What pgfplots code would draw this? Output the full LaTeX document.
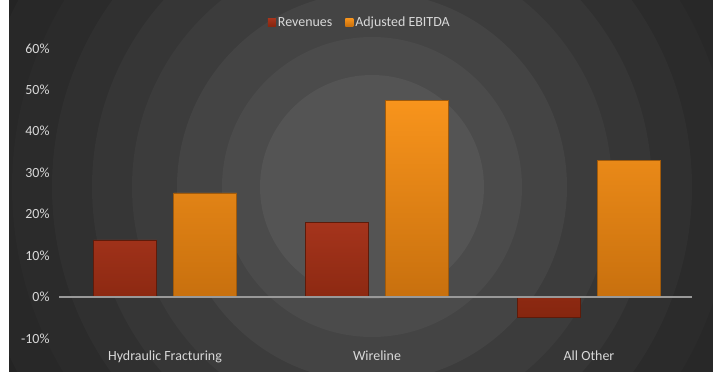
\documentclass[border=0pt]{standalone}
\usepackage{pgfplots}
\pgfplotsset{compat=1.18}
\usepackage{fontspec}
\setmainfont{Carlito}
\definecolor{revtop}{HTML}{A5341C}
\definecolor{revbot}{HTML}{86260F}
\definecolor{ebtop}{HTML}{F8941C}
\definecolor{ebbot}{HTML}{C8700E}
\definecolor{lbl}{HTML}{D9D9D9}
\begin{document}
\begin{tikzpicture}
\useasboundingbox (0,0) rectangle (713bp,375bp);
\fill[white] (0,0) rectangle (713bp,375bp);
\begin{scope}
\clip (9bp,3bp) rectangle (713bp,375bp);
\fill[black!87] (0,0) rectangle (713bp,375bp);
\foreach \r/\g in {440/86,400/84.5,360/83,320/81,280/79,240/76.5,195/73.5,150/70.5,112/67}{
  \fill[black!\g] (372bp,188bp) circle (\r bp);
}
\end{scope}
\begin{axis}[
  at={(59bp,36.6bp)}, anchor=south west,
  scale only axis, width=636bp, height=290bp,
  ymin=-10, ymax=60, xmin=-0.5, xmax=2.5,
  ybar=17bp, bar width=63bp,
  axis line style={draw=none},
  tick style={draw=none},
  xtick={0,1,2},
  xticklabels={Hydraulic Fracturing,Wireline,All Other},
  ytick={-10,0,10,20,30,40,50,60},
  yticklabel={\pgfmathprintnumber{\tick}\%},
  /pgf/number format/assume math mode=true,
  ticklabel style={font=\fontsize{14}{16}\selectfont, text=lbl},
  x tick label style={yshift=-5bp},
  y tick label style={xshift=-6bp},
  legend style={at={(0.473,1.088)}, anchor=center, draw=none, fill=none,
    legend columns=2, text=lbl, font=\fontsize{14}{16}\selectfont,
    nodes={inner xsep=2bp},
    /tikz/every even column/.append style={column sep=11bp}},
  legend image code/.code={\path[#1, draw=none] (0bp,-3.5bp) rectangle (8bp,4.5bp);},
]
\addplot[draw=revbot!70!black, line width=0.6bp, top color=revtop, bottom color=revbot]
  coordinates {(0,13.8) (1,18.0) (2,-4.9)};
\addplot[draw=ebbot!80!black, line width=0.6bp, top color=ebtop, bottom color=ebbot]
  coordinates {(0,25.1) (1,47.5) (2,32.9)};
\legend{Revenues, Adjusted EBITDA}
\draw[color=black!40!white, line width=2bp] (axis cs:-0.5,0) -- (axis cs:2.485,0);
\end{axis}
\end{tikzpicture}
\end{document}
